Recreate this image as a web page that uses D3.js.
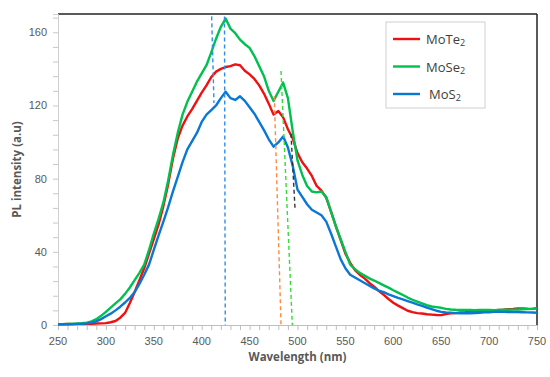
<!DOCTYPE html>
<html>
<head>
<meta charset="utf-8">
<script src="https://cdn.jsdelivr.net/npm/d3@7"></script>
<style>
	body { margin: 0; background: #fff; }
	svg { display: block; font-family: 'Open Sans', 'Liberation Sans', sans-serif; }
</style>
</head>
<body>
<svg id="chart" width="550" height="377"></svg>
<script>
const wavelengths = d3.range(250, 751, 5);

const moTe2 = [
	0.5, 0.5, 0.6, 0.5, 0.6, 0.6, 0.7, 0.7, 0.8, 0.9,
	1.0, 1.5, 2.2, 4, 6.6, 12, 18, 24.5, 31, 39,
	47, 55, 65, 77, 91, 102, 109, 114, 118, 122.5,
	127, 131, 135.5, 138.5, 140, 141, 141.5, 142.5, 142, 139,
	137, 134.5, 131, 126.5, 121, 115, 117, 113.5, 107, 102,
	94, 89, 85.5, 81.5, 76, 73.5, 69.5, 62, 54, 46.5,
	39, 34, 30, 27.5, 25.5, 23, 21, 18.5, 16.5, 14.2,
	12.2, 10.6, 9.2, 7.8, 7.0, 6.5, 6.3, 5.9, 5.7, 5.5,
	5.4, 6.0, 6.4, 6.5, 6.8, 7.0, 7.3, 7.4, 7.6, 7.7,
	7.8, 8.0, 8.2, 8.4, 8.7, 8.8, 9.0, 9.1, 8.9, 8.8,
	9.2
];

const moSe2 = [
	0.5, 0.5, 0.6, 0.7, 0.8, 1.0, 1.3, 2.0, 3.2, 5.0,
	7.2, 9.5, 11.8, 14, 17, 20.5, 24.5, 28.5, 33, 41,
	50, 58, 67, 79, 93, 105, 115, 122, 127.5, 133,
	137.5, 142, 149, 156.5, 163, 167.5, 162, 159.5, 156, 153.5,
	151.5, 147, 141.5, 136, 128, 122.5, 127.5, 132.5, 124, 106,
	90, 82, 76, 73, 72.5, 73, 70, 62, 54, 47,
	40, 33, 30.5, 28.5, 27, 25.5, 24.3, 23, 21.7, 20.4,
	19, 17.7, 16.4, 15, 13.8, 12.8, 11.8, 10.8, 10.1, 9.8,
	9.4, 8.8, 8.5, 8.3, 8.2, 8.2, 8.2, 8.1, 8.2, 8.2,
	8.2, 8.1, 8.2, 8.3, 8.3, 8.4, 8.5, 8.6, 8.7, 8.8,
	9.0
];

const moS2 = [
	0.3, 0.4, 0.4, 0.5, 0.6, 0.7, 0.9, 1.3, 2.0, 3.2,
	4.8, 6.2, 8, 10, 12.3, 14.8, 18, 22.5, 27.5, 33,
	41, 49, 56.5, 64.5, 73, 81, 89, 96, 100.5, 105,
	111, 115, 117.5, 120, 124, 127.5, 124, 123, 125, 122.5,
	119, 115.5, 111, 106.5, 101.5, 97.5, 99.8, 103, 97, 87,
	74, 70, 66, 63, 61.5, 60, 56.5, 50, 43, 36,
	31, 27.5, 26, 24.5, 23, 21.5, 20, 18.8, 18, 16.7,
	15.8, 14.8, 14, 13.1, 12.2, 11.3, 10.5, 9.5, 8.7, 7.8,
	7.2, 6.9, 6.7, 6.5, 6.4, 6.4, 6.4, 6.5, 6.7, 6.9,
	7.0, 7.2, 7.3, 7.2, 7.1, 7.1, 7.1, 7.0, 6.9, 6.8,
	6.7
];

const seriesNames = ['MoTe', 'MoSe', 'MoS'];
const seriesColors = ['#ee1111', '#00c050', '#0a78d2'];
const seriesValues = [moTe2, moSe2, moS2];

const xTicks = d3.range(250, 751, 50);
const yTicks = [0, 40, 80, 120, 160];

// dashed guide lines: [wavelength, intensity] start and end
const guides = [
	{color: '#2f8fe8', from: [410.4, 168.7], to: [412.8, 121.4]},
	{color: '#2f8fe8', from: [423.8, 168.7], to: [424.6, 0]},
	{color: '#ff8a3d', from: [475.8, 125], to: [482.8, 0]},
	{color: '#33dd33', from: [482.8, 138.8], to: [494.6, 0]},
	{color: '#333333', from: [493.2, 104.5], to: [497.4, 63.7]}
];

const margin = {top: 14, right: 13, bottom: 52, left: 58},
	width = 550 - margin.left - margin.right,
	height = 377 - margin.top - margin.bottom;

const svg = d3.select('#chart');
const g = svg.append('g').attr('transform', `translate(${margin.left},${margin.top})`);

const x = d3.scaleLinear().domain([250, 750]).range([0, width]);
const y = d3.scaleLinear().domain([0, 170]).range([height, 0]);

// frame: top and right borders
g.append('line').attr('x1', 0).attr('x2', width).attr('y1', 0).attr('y2', 0)
	.attr('stroke', '#222').attr('stroke-width', 1.5);
g.append('line').attr('x1', width).attr('x2', width).attr('y1', 0).attr('y2', height)
	.attr('stroke', '#222').attr('stroke-width', 1.5);

// x axis
const xAxis = g.append('g').attr('transform', `translate(0,${height})`);
xAxis.call(d3.axisBottom(x).tickValues(d3.range(250, 751, 10)).tickSize(5).tickFormat(''))
	.call(a => a.select('.domain').attr('stroke', '#bfbfbf'))
	.call(a => a.selectAll('.tick line').attr('stroke', '#bfbfbf'));
xAxis.selectAll('.lbl')
	.data(xTicks)
	.enter()
	.append('text')
	.attr('x', d => x(d))
	.attr('y', 20)
	.attr('text-anchor', 'middle')
	.attr('fill', '#595959')
	.style('font-size', '11px')
	.text(d => d);

// y axis
const yAxis = g.append('g');
yAxis.call(d3.axisLeft(y).tickValues(d3.range(0, 169, 8)).tickSize(5).tickFormat(''))
	.call(a => a.select('.domain').attr('stroke', '#d0d0d0'))
	.call(a => a.selectAll('.tick line').attr('stroke', '#c8c8c8'));
yAxis.selectAll('.lbl')
	.data(yTicks)
	.enter()
	.append('text')
	.attr('x', -11)
	.attr('y', d => y(d) + 4)
	.attr('text-anchor', 'end')
	.attr('fill', '#595959')
	.style('font-size', '11px')
	.text(d => d);

// axis titles
svg.append('text')
	.attr('x', margin.left + width / 2)
	.attr('y', 361)
	.attr('text-anchor', 'middle')
	.attr('fill', '#595959')
	.style('font-size', '11.5px')
	.style('font-weight', 'bold')
	.text('Wavelength (nm)');
svg.append('text')
	.attr('transform', `translate(21,${margin.top + height / 2}) rotate(-90)`)
	.attr('text-anchor', 'middle')
	.attr('fill', '#595959')
	.style('font-size', '11.5px')
	.style('font-weight', 'bold')
	.text('PL intensity (a.u)');

// curves
const line = d3.line()
	.x((d, i) => x(wavelengths[i]))
	.y(d => y(d));

g.selectAll('.curve')
	.data(seriesValues)
	.enter()
	.append('path')
	.attr('class', 'curve')
	.attr('fill', 'none')
	.attr('stroke', (_, i) => seriesColors[i])
	.attr('stroke-width', 2.4)
	.attr('stroke-linejoin', 'round')
	.attr('d', line);

// dashed guides
g.selectAll('.guide')
	.data(guides)
	.enter()
	.append('line')
	.attr('x1', d => x(d.from[0]))
	.attr('y1', d => y(d.from[1]))
	.attr('x2', d => x(d.to[0]))
	.attr('y2', d => y(d.to[1]))
	.attr('stroke', d => d.color)
	.attr('stroke-width', 1.4)
	.attr('stroke-dasharray', '4,3');

// legend
const legend = svg.append('g').attr('transform', 'translate(386,22)');
legend.append('rect')
	.attr('width', 99)
	.attr('height', 86)
	.attr('fill', '#fff')
	.attr('stroke', '#d0d0d0');
const items = legend.selectAll('.item')
	.data(seriesNames)
	.enter()
	.append('g')
	.attr('transform', (_, i) => `translate(0,${17 + i * 27.5})`);
items.append('line')
	.attr('x1', 7)
	.attr('x2', 34)
	.attr('stroke', (_, i) => seriesColors[i])
	.attr('stroke-width', 2.4);
const labels = items.append('text')
	.attr('x', (_, i) => i === 2 ? 43 : 40)
	.attr('y', 5)
	.attr('fill', '#404040')
	.style('font-size', '13px');
labels.append('tspan').text(d => d);
labels.append('tspan').attr('dy', 2).style('font-size', '9px').text('2');
</script>
</body>
</html>
